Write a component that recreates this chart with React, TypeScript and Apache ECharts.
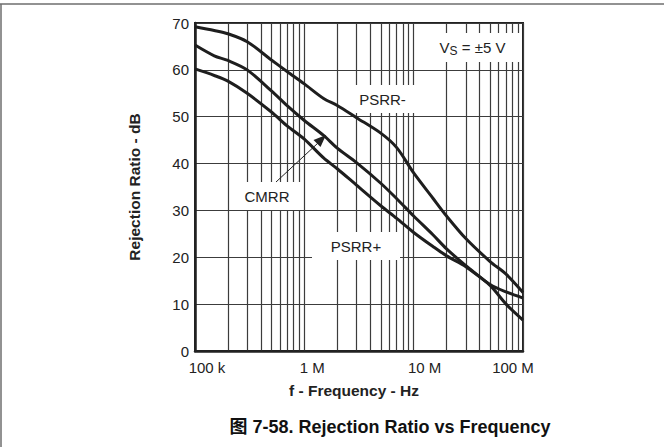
import React, { useEffect, useRef } from "react";
import * as echarts from "echarts";

// Frequencies in MHz (shared sample points)
const freqMHz = [0.1, 0.15, 0.2, 0.3, 0.5, 0.7, 1, 1.5, 2, 3, 5, 7, 10, 15, 20, 30, 50, 70, 100];
// Rejection ratio in dB
const psrrMinus = [69.2, 68.4, 67.7, 66.0, 62.1, 59.6, 57.0, 53.9, 52.4, 49.8, 46.5, 43.4, 38.0, 32.6, 28.8, 24.0, 19.1, 16.4, 12.5];
const cmrr = [65.3, 63.0, 62.0, 60.0, 55.5, 52.3, 49.2, 46.0, 43.3, 40.2, 35.8, 32.5, 28.8, 24.8, 21.8, 18.2, 14.0, 10.0, 6.6];
const psrrPlus = [60.2, 58.8, 57.6, 55.0, 51.0, 48.0, 45.2, 41.2, 38.9, 35.4, 31.0, 28.3, 25.3, 22.3, 20.3, 18.0, 14.2, 12.6, 11.3];

const xTickValues = [1e5, 1e6, 1e7, 1e8];
const xTickLabels = ["100 k", "1 M", "10 M", "100 M"];

const FONT = '"Liberation Sans", Arial, Helvetica, "Noto Sans CJK SC", sans-serif';
const INK = "#1e1e1e";
const GRIDC = "#3c3c3c";

function toPairs(vals: number[]) {
  return freqMHz.map((f, i) => [f * 1e6, vals[i]]);
}

function labelBox(x: number, y: number, w: number, h: number, text: any, rich?: any) {
  return {
    type: "group",
    z: 1,
    children: [
      { type: "rect", z: 1, shape: { x, y, width: w, height: h }, style: { fill: "#ffffff" } },
      {
        type: "text",
        z: 1,
        x: x + w / 2,
        y: y + h / 2,
        style: {
          text,
          rich,
          fontFamily: FONT,
          fontSize: 15,
          fill: "#222",
          align: "center",
          verticalAlign: "middle",
        },
      },
    ],
  };
}

const tickRich = {
  t0: { fontFamily: FONT, fontSize: 15, color: "#222", padding: [0, 0, 0, 24] },
  t1: { fontFamily: FONT, fontSize: 15, color: "#222", padding: [0, 0, 0, 16] },
  t2: { fontFamily: FONT, fontSize: 15, color: "#222", padding: [0, 0, 0, 22] },
  t3: { fontFamily: FONT, fontSize: 15, color: "#222", padding: [0, 20, 0, 0] },
};

export default function App() {
  const ref = useRef<HTMLDivElement>(null);
  useEffect(() => {
    if (!ref.current) return;
    const chart = echarts.init(ref.current, undefined, { renderer: "svg" });
    const lineSeries = (name: string, vals: number[]) => ({
      name,
      type: "line",
      data: toPairs(vals),
      showSymbol: false,
      smooth: 0.3,
      z: 3,
      lineStyle: { color: INK, width: 3 },
      itemStyle: { color: INK },
    });
    chart.setOption({
      animation: false,
      backgroundColor: "#ffffff",
      textStyle: { fontFamily: FONT },
      grid: {
        left: 195,
        right: 141,
        top: 23,
        bottom: 96,
        show: true,
        borderColor: "#222",
        borderWidth: 2,
      },
      xAxis: {
        type: "log",
        logBase: 10,
        min: 1e5,
        max: 1e8,
        name: "f - Frequency - Hz",
        nameLocation: "middle",
        nameGap: 32,
        nameTextStyle: {
          fontFamily: FONT,
          fontSize: 15.5,
          fontWeight: "bold",
          color: "#222",
          padding: [0, 10, 0, 0],
        },
        axisLine: { show: true, lineStyle: { color: "#222", width: 2.5 } },
        axisTick: { show: false },
        axisLabel: {
          fontFamily: FONT,
          fontSize: 15,
          color: "#222",
          margin: 9,
          rich: tickRich,
          formatter: (v: number) => {
            const i = xTickValues.findIndex((t) => Math.abs(Math.log10(t) - Math.log10(v)) < 1e-6);
            return i >= 0 ? `{t${i}|${xTickLabels[i]}}` : "";
          },
        },
        splitLine: { show: true, lineStyle: { color: GRIDC, width: 1.2 } },
        minorTick: { show: false, splitNumber: 9 },
        minorSplitLine: { show: true, lineStyle: { color: GRIDC, width: 1.2 } },
      },
      yAxis: {
        type: "value",
        min: 0,
        max: 70,
        interval: 10,
        name: "Rejection Ratio - dB",
        nameLocation: "middle",
        nameGap: 53,
        nameTextStyle: { fontFamily: FONT, fontSize: 15.5, fontWeight: "bold", color: "#222" },
        axisLine: { show: true, lineStyle: { color: "#222", width: 2.5 } },
        axisTick: { show: false },
        axisLabel: { fontFamily: FONT, fontSize: 15, color: "#222", margin: 6 },
        splitLine: { show: true, lineStyle: { color: GRIDC, width: 1.2 } },
      },
      series: [
        lineSeries("PSRR-", psrrMinus),
        lineSeries("CMRR", cmrr),
        lineSeries("PSRR+", psrrPlus),
      ],
      graphic: [
        // page frame (top and left edges)
        { type: "line", z: 5, shape: { x1: 0, y1: 4, x2: 664, y2: 4 }, style: { stroke: "#6e6e6e", lineWidth: 1.5 } },
        { type: "line", z: 5, shape: { x1: 1, y1: 4, x2: 1, y2: 447 }, style: { stroke: "#6e6e6e", lineWidth: 1.5 } },
        labelBox(350, 85, 65, 28, "PSRR-"),
        labelBox(425, 33, 95, 29, "{v|V}{s|S}{v| = ±5 V}", {
          v: { fontFamily: FONT, fontSize: 15, fill: "#222" },
          s: { fontFamily: FONT, fontSize: 12, fill: "#222", padding: [6, 0, 0, 0] },
        }),
        labelBox(232, 182, 70, 28, "CMRR"),
        labelBox(312, 232, 88, 28, "PSRR+"),
        // arrow from CMRR label to CMRR curve
        { type: "line", z: 5, shape: { x1: 276, y1: 182, x2: 318, y2: 143 }, style: { stroke: "#222", lineWidth: 1 } },
        {
          type: "polygon",
          z: 5,
          shape: { points: [[326, 135], [320.5, 147], [313.5, 140]] },
          style: { fill: "#222" },
        },
        {
          type: "text",
          z: 5,
          x: 390,
          y: 427,
          style: {
            text: "图 7-58. Rejection Ratio vs Frequency",
            fontFamily: FONT,
            fontSize: 18,
            fontWeight: "bold",
            fill: "#111",
            align: "center",
            verticalAlign: "middle",
          },
        },
      ],
    });
    return () => chart.dispose();
  }, []);
  return (
    <div
      ref={ref}
      style={{ position: "fixed", left: 0, top: 0, width: 664, height: 447, background: "#fff" }}
    />
  );
}
